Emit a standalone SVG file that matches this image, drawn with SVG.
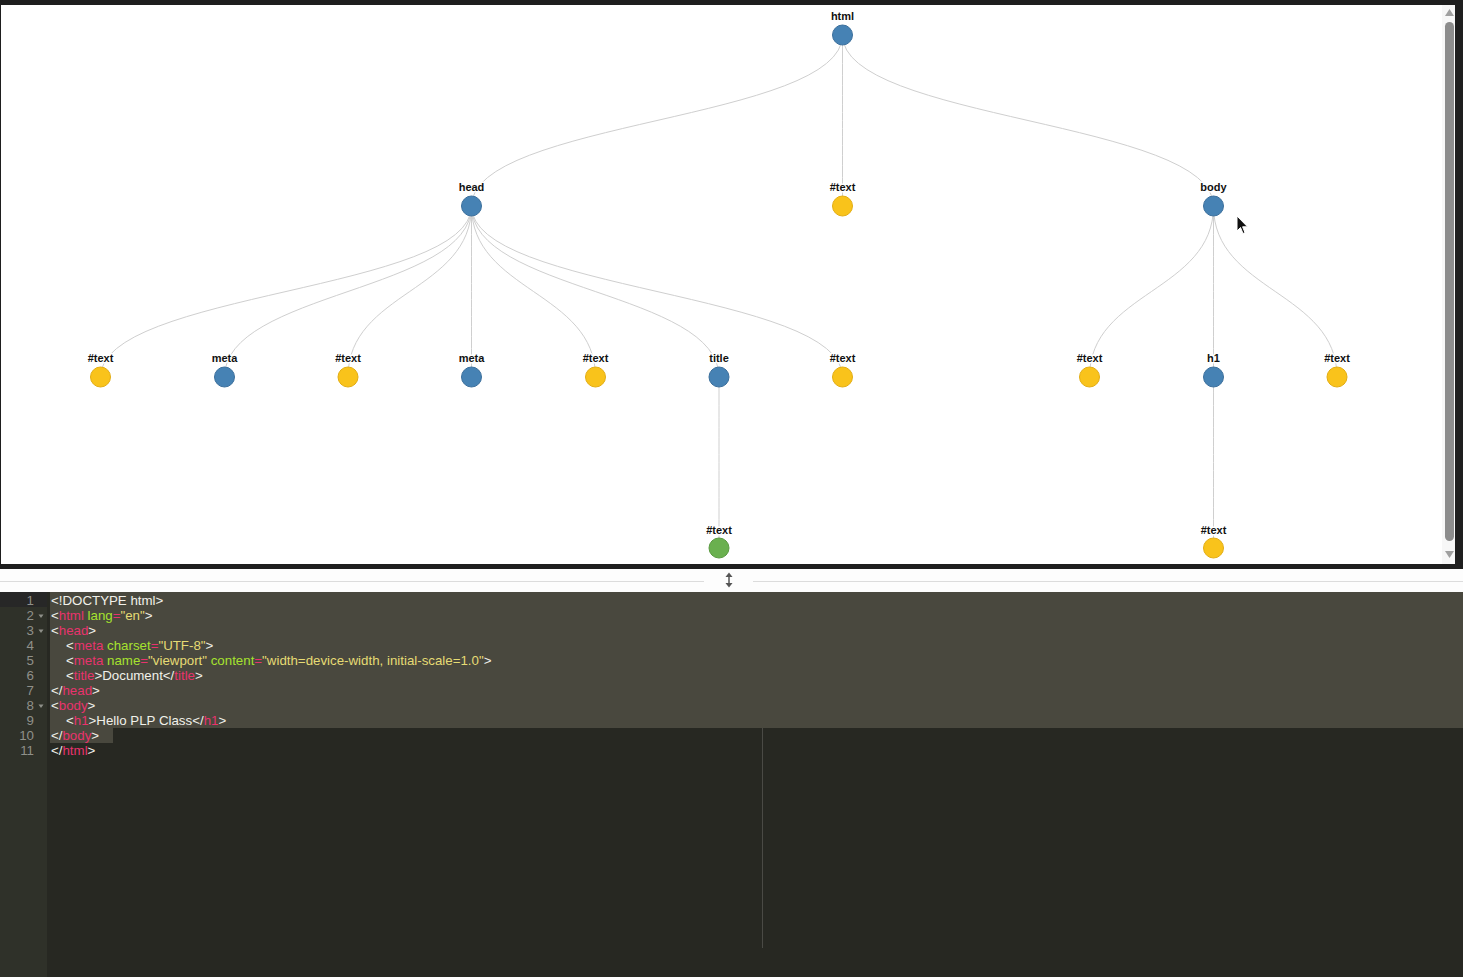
<svg xmlns="http://www.w3.org/2000/svg" width="1463" height="977" viewBox="0 0 1463 977">
<style>
.link{fill:none;stroke:#cfcfcf;stroke-width:1}
.lbl{font-family:"Liberation Sans",Arial,sans-serif;font-size:11px;font-weight:bold;fill:#111;text-anchor:middle;stroke:#fff;stroke-width:3;stroke-linejoin:round;paint-order:stroke}
.el{fill:#4682b4;stroke:#3b6f9c;stroke-width:1}
.tx{fill:#f9c31b;stroke:#e3ad12;stroke-width:1}
.gr{fill:#6ab04f;stroke:#5a9a41;stroke-width:1}
.code{font-family:"Liberation Sans",Arial,sans-serif;font-size:13.3px;fill:#f1f1ea}
.ln{font-family:"Liberation Sans",Arial,sans-serif;font-size:13.3px;fill:#8f908a;text-anchor:end}
.fold{fill:#8f908a}
.t{fill:#e8336d}
.a{fill:#a6e22e}
.v{fill:#e6db74}
</style>
<!-- frame -->
<rect x="0" y="0" width="1463" height="977" fill="#1e1e1e"/>
<rect x="1" y="5" width="1454" height="559" fill="#ffffff"/>
<!-- scrollbar -->
<rect x="1442" y="5" width="13" height="559" fill="#f7f7f7"/>
<rect x="1445" y="22" width="9" height="519" rx="4.5" fill="#8c8c8c"/>
<polygon points="1449.5,9 1445,16 1454,16" fill="#a0a0a0"/>
<polygon points="1445,551 1454,551 1449.5,558" fill="#a0a0a0"/>
<!-- divider -->
<rect x="0" y="569" width="1463" height="23" fill="#fdfdfd"/>
<line x1="0" y1="581.5" x2="704" y2="581.5" stroke="#dcdcdc" stroke-width="1"/>
<line x1="753" y1="581.5" x2="1463" y2="581.5" stroke="#dcdcdc" stroke-width="1"/>
<g fill="#555" stroke="#555">
<line x1="729" y1="575" x2="729" y2="585" stroke-width="1.5"/>
<polygon points="729,572.5 725.5,577 732.5,577" stroke="none"/>
<polygon points="729,587.5 725.5,583 732.5,583" stroke="none"/>
</g>
<!-- connectors -->
<g id="connectors">
<path class="link" d="M842.5,35C842.5,120.5 471.5,120.5 471.5,206"/>
<path class="link" d="M842.5,35C842.5,120.5 842.5,120.5 842.5,206"/>
<path class="link" d="M842.5,35C842.5,120.5 1213.5,120.5 1213.5,206"/>
<path class="link" d="M471.5,206C471.5,291.5 100.5,291.5 100.5,377"/>
<path class="link" d="M471.5,206C471.5,291.5 224.5,291.5 224.5,377"/>
<path class="link" d="M471.5,206C471.5,291.5 348,291.5 348,377"/>
<path class="link" d="M471.5,206C471.5,291.5 471.5,291.5 471.5,377"/>
<path class="link" d="M471.5,206C471.5,291.5 595.5,291.5 595.5,377"/>
<path class="link" d="M471.5,206C471.5,291.5 719,291.5 719,377"/>
<path class="link" d="M471.5,206C471.5,291.5 842.5,291.5 842.5,377"/>
<path class="link" d="M1213.5,206C1213.5,291.5 1089.5,291.5 1089.5,377"/>
<path class="link" d="M1213.5,206C1213.5,291.5 1213.5,291.5 1213.5,377"/>
<path class="link" d="M1213.5,206C1213.5,291.5 1337,291.5 1337,377"/>
<path class="link" d="M719,377C719,462.5 719,462.5 719,548"/>
<path class="link" d="M1213.5,377C1213.5,462.5 1213.5,462.5 1213.5,548"/>
</g>
<!-- nodes -->
<g id="n-html"><circle class="el" cx="842.5" cy="35" r="10"/><text class="lbl" x="842.5" y="20">html</text></g>
<g id="n-head"><circle class="el" cx="471.5" cy="206" r="10"/><text class="lbl" x="471.5" y="191">head</text></g>
<g id="n-text1"><circle class="tx" cx="842.5" cy="206" r="10"/><text class="lbl" x="842.5" y="191">#text</text></g>
<g id="n-body"><circle class="el" cx="1213.5" cy="206" r="10"/><text class="lbl" x="1213.5" y="191">body</text></g>
<g id="n-text2"><circle class="tx" cx="100.5" cy="377" r="10"/><text class="lbl" x="100.5" y="362">#text</text></g>
<g id="n-meta1"><circle class="el" cx="224.5" cy="377" r="10"/><text class="lbl" x="224.5" y="362">meta</text></g>
<g id="n-text3"><circle class="tx" cx="348" cy="377" r="10"/><text class="lbl" x="348" y="362">#text</text></g>
<g id="n-meta2"><circle class="el" cx="471.5" cy="377" r="10"/><text class="lbl" x="471.5" y="362">meta</text></g>
<g id="n-text4"><circle class="tx" cx="595.5" cy="377" r="10"/><text class="lbl" x="595.5" y="362">#text</text></g>
<g id="n-title"><circle class="el" cx="719" cy="377" r="10"/><text class="lbl" x="719" y="362">title</text></g>
<g id="n-text5"><circle class="tx" cx="842.5" cy="377" r="10"/><text class="lbl" x="842.5" y="362">#text</text></g>
<g id="n-text6"><circle class="tx" cx="1089.5" cy="377" r="10"/><text class="lbl" x="1089.5" y="362">#text</text></g>
<g id="n-h1"><circle class="el" cx="1213.5" cy="377" r="10"/><text class="lbl" x="1213.5" y="362">h1</text></g>
<g id="n-text7"><circle class="tx" cx="1337" cy="377" r="10"/><text class="lbl" x="1337" y="362">#text</text></g>
<g id="n-text8"><circle class="gr" cx="719" cy="548" r="10"/><text class="lbl" x="719" y="534">#text</text></g>
<g id="n-text9"><circle class="tx" cx="1213.5" cy="548" r="10"/><text class="lbl" x="1213.5" y="534">#text</text></g>
<!-- cursor -->
<polygon points="1237,216 1237,231 1240.5,227.5 1243,233.5 1245,232.7 1242.6,226.8 1247.5,226.8" fill="#111" stroke="#fff" stroke-width="1"/>
<!-- editor -->
<rect x="0" y="592" width="1463" height="385" fill="#272822"/>
<rect x="0" y="592" width="47" height="385" fill="#2f3129"/>
<rect x="0" y="592" width="47" height="15" fill="#272727"/>
<rect x="50" y="592" width="1413" height="136" fill="#49483e"/>
<rect x="50" y="728" width="63" height="15" fill="#49483e"/>
<line x1="762.5" y1="728" x2="762.5" y2="948" stroke="#4a4a45" stroke-width="1"/>
<g id="gutter">
<text class="ln" x="34" y="605">1</text>
<text class="ln" x="34" y="620">2</text>
<text class="ln" x="34" y="635">3</text>
<text class="ln" x="34" y="650">4</text>
<text class="ln" x="34" y="665">5</text>
<text class="ln" x="34" y="680">6</text>
<text class="ln" x="34" y="695">7</text>
<text class="ln" x="34" y="710">8</text>
<text class="ln" x="34" y="725">9</text>
<text class="ln" x="34" y="740">10</text>
<text class="ln" x="34" y="755">11</text>
<polygon class="fold" points="38.5,614.5 43.5,614.5 41,618"/>
<polygon class="fold" points="38.5,629.5 43.5,629.5 41,633"/>
<polygon class="fold" points="38.5,704.5 43.5,704.5 41,708"/>
</g>
<g id="code">
<text class="code" x="51" y="605">&lt;!DOCTYPE html&gt;</text>
<text class="code" x="51" y="620">&lt;<tspan class="t">html</tspan> <tspan class="a">lang</tspan><tspan class="t">=</tspan><tspan class="v">"en"</tspan>&gt;</text>
<text class="code" x="51" y="635">&lt;<tspan class="t">head</tspan>&gt;</text>
<text class="code" x="66" y="650">&lt;<tspan class="t">meta</tspan> <tspan class="a">charset</tspan><tspan class="t">=</tspan><tspan class="v">"UTF-8"</tspan>&gt;</text>
<text class="code" x="66" y="665">&lt;<tspan class="t">meta</tspan> <tspan class="a">name</tspan><tspan class="t">=</tspan><tspan class="v">"viewport"</tspan> <tspan class="a">content</tspan><tspan class="t">=</tspan><tspan class="v">"width=device-width, initial-scale=1.0"</tspan>&gt;</text>
<text class="code" x="66" y="680">&lt;<tspan class="t">title</tspan>&gt;Document&lt;/<tspan class="t">title</tspan>&gt;</text>
<text class="code" x="51" y="695">&lt;/<tspan class="t">head</tspan>&gt;</text>
<text class="code" x="51" y="710">&lt;<tspan class="t">body</tspan>&gt;</text>
<text class="code" x="66" y="725">&lt;<tspan class="t">h1</tspan>&gt;Hello PLP Class&lt;/<tspan class="t">h1</tspan>&gt;</text>
<text class="code" x="51" y="740">&lt;/<tspan class="t">body</tspan>&gt;</text>
<text class="code" x="51" y="755">&lt;/<tspan class="t">html</tspan>&gt;</text>
</g>
</svg>
